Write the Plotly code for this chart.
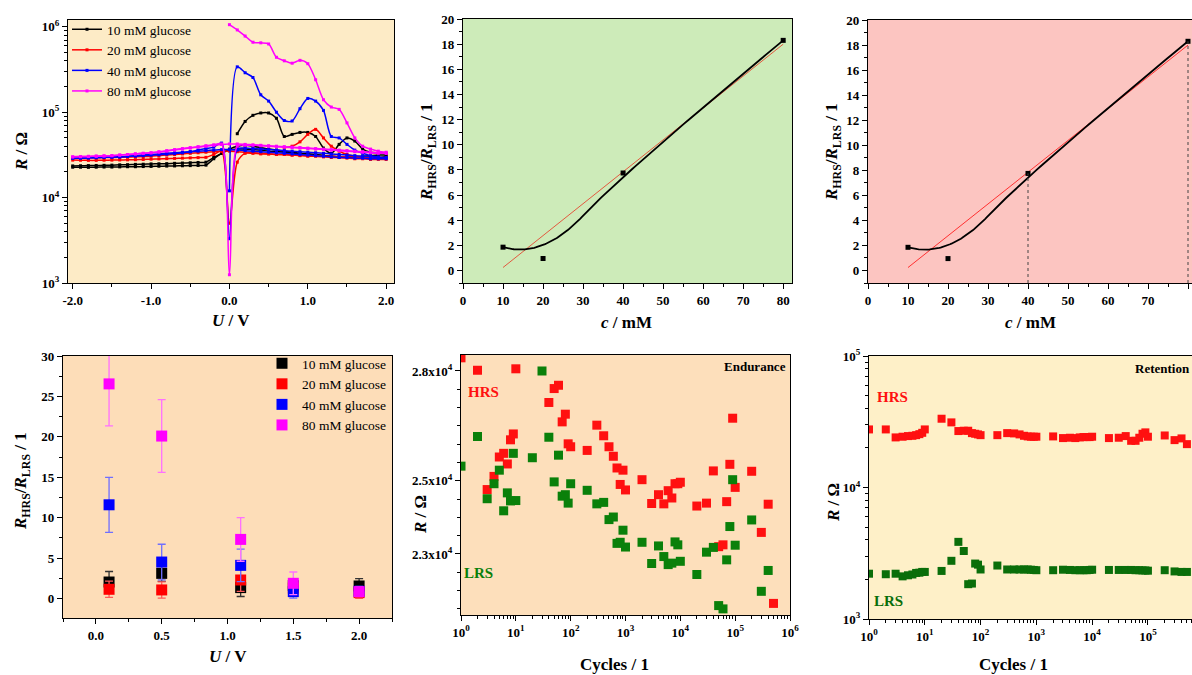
import numpy as np
import plotly.graph_objects as go

W, H = 1192, 675
SERIF = "Liberation Serif, Times New Roman, Times, serif"

# ---------------- Panel 1 : R vs U (sweeps) ----------------
U_fwd = [-2.0, -1.9, -1.8, -1.7, -1.6, -1.5, -1.4, -1.3, -1.2, -1.1, -1.0, -0.9, -0.8, -0.7,
         -0.6, -0.5, -0.4, -0.3, -0.2, -0.1, 0.0, 0.1, 0.2, 0.3, 0.4, 0.5, 0.6, 0.7, 0.8, 0.9,
         1.0, 1.1, 1.2, 1.3, 1.4, 1.5, 1.6, 1.7, 1.8, 1.9, 2.0]
U_ret = [2.0, 1.9, 1.8, 1.7, 1.6, 1.5, 1.4, 1.3, 1.2, 1.1, 1.0, 0.9, 0.8, 0.7, 0.6, 0.5, 0.4,
         0.3, 0.2, 0.1, 0.0, -0.1, -0.2, -0.3, -0.4, -0.5, -0.6, -0.7, -0.8, -0.9, -1.0, -1.1,
         -1.2, -1.3, -1.4, -1.5, -1.6, -1.7, -1.8, -1.9, -2.0]

R10_fwd = [22700, 22700, 22600, 22700, 22800, 22800, 22900, 23000, 23000, 23100, 23200, 23300,
           23400, 23500, 23600, 23700, 23800, 24000, 28500, 33000, 37000, 40000, 41000, 40000,
           38500, 37000, 36000, 35000, 34000, 33000, 32500, 32000, 31000, 30500, 30000, 29500,
           29500, 29500, 29500, 29500, 30000]
U10_hrs = [0.1, 0.2, 0.3, 0.4, 0.5, 0.6, 0.7, 0.8, 0.9, 1.0, 1.1, 1.2, 1.3, 1.4, 1.5, 1.6,
           1.7, 1.8, 1.9, 2.0]
R10_hrs = [56000, 78000, 92000, 98000, 98000, 85000, 52000, 55000, 58000, 58000, 52000, 38000,
           33000, 42000, 50000, 46000, 37000, 34000, 33500, 33000]
R10_ret = [31500, 31500, 31000, 30500, 30000, 30000, 30000, 30500, 31000, 31500, 32000, 32500,
           33000, 34000, 34500, 35000, 36000, 36500, 37000, 37000, 36000, 33000, 29500, 26000,
           25800, 25600, 25400, 25200, 25000, 24900, 24800, 24600, 24500, 24300, 24200, 24000,
           23900, 23800, 23700, 23600, 23500]

R20_fwd = [27500, 27400, 27300, 27300, 27400, 27500, 27600, 27700, 27800, 28000, 28200, 28400,
           28600, 28800, 29000, 29200, 29400, 29600, 32000, 35000, 5000, 26000, 33000, 33000,
           32500, 32500, 32000, 32000, 31500, 31000, 30500, 30500, 30000, 29500, 29500, 29000,
           28500, 28500, 28000, 28000, 28000]
U20_hrs = [0.7, 0.8, 0.9, 1.0, 1.1, 1.2, 1.3, 1.4, 1.5, 1.6, 1.7, 1.8, 1.9, 2.0]
R20_hrs = [38500, 40000, 45000, 55000, 63000, 50000, 40000, 35000, 32000, 30500, 30000, 29500,
           29000, 29000]
R20_ret = [29000, 29000, 29000, 29500, 29500, 30000, 30000, 30500, 30500, 31000, 31000, 31500,
           31500, 32000, 32000, 32500, 33000, 33500, 34000, 34500, 35000, 35000, 34500, 34000,
           33500, 33000, 32500, 32000, 31500, 31000, 30500, 30200, 30000, 29800, 29600, 29500,
           29400, 29300, 29200, 29100, 29000]

R40_fwd = [29000, 29000, 29200, 29400, 29600, 29800, 30000, 30300, 30600, 31000, 31400, 31800,
           32300, 32800, 33500, 34500, 36000, 37500, 39000, 43500, 3300, 37000, 38000, 37500,
           37000, 36500, 36000, 35500, 35000, 34500, 34000, 33500, 33000, 32500, 32000, 31500,
           31000, 30500, 30000, 29500, 29000]
U40_hrs = [0.0, 0.1, 0.2, 0.3, 0.4, 0.5, 0.6, 0.7, 0.8, 0.9, 1.0, 1.1, 1.2, 1.3, 1.4, 1.5,
           1.6, 1.7, 1.8, 1.9, 2.0]
R40_hrs = [12000, 340000, 290000, 255000, 160000, 135000, 100000, 80000, 79000, 110000, 145000,
           135000, 105000, 52000, 50000, 42000, 36000, 33000, 31000, 30000, 29500]
R40_ret = [28500, 28500, 28500, 29000, 29000, 29500, 29500, 30000, 30500, 31000, 31500, 32000,
           32500, 33000, 33500, 34000, 34500, 35000, 35500, 36000, 36500, 36500, 36000, 35500,
           35000, 34500, 34000, 33500, 33000, 32500, 32000, 31500, 31000, 30500, 30000, 29800,
           29600, 29400, 29200, 29000, 29000]

R80_fwd = [30000, 30200, 30400, 30600, 30800, 31000, 31500, 32000, 32500, 33000, 33500, 34500,
           35500, 36500, 37500, 38500, 39500, 40500, 41500, 42500, 1250, 40000, 41000, 41000,
           40500, 40000, 39500, 39000, 38500, 38000, 37500, 37000, 36500, 36000, 35500, 35000,
           34500, 34000, 33500, 33000, 33000]
U80_hrs = [0.0, 0.1, 0.2, 0.3, 0.4, 0.5, 0.6, 0.7, 0.8, 0.9, 1.0, 1.1, 1.2, 1.3, 1.4, 1.5,
           1.6, 1.7, 1.8, 1.9, 2.0]
R80_hrs = [1060000, 920000, 780000, 660000, 650000, 630000, 440000, 400000, 375000, 405000,
           370000, 240000, 140000, 115000, 108000, 75000, 50000, 40000, 37000, 35000, 34000]
R80_ret = [33000, 33500, 34000, 34500, 35000, 35500, 36000, 36500, 37000, 37500, 38000, 38500,
           39000, 39500, 40000, 40500, 41000, 41500, 42000, 42500, 42500, 42000, 41000, 40000,
           39000, 38000, 37000, 36000, 35000, 34000, 33500, 33000, 32500, 32000, 31500, 31000,
           30800, 30600, 30400, 30200, 30000]

series_names = ["10 mM glucose", "20 mM glucose", "40 mM glucose", "80 mM glucose"]
series_colors = ["#000000", "#FF0000", "#0000FF", "#FF00FF"]
U_ticks = [-2.0, -1.0, 0.0, 1.0, 2.0]

# ---------------- Panels 2/3 : ratio vs concentration ----------------
conc = [10, 20, 40, 80]
ratio_c = [1.85, 0.95, 7.75, 18.3]
marked_conc = [40, 80]

# ---------------- Panel 4 : ratio vs voltage ----------------
U_ratio = [0.1, 0.5, 1.1, 1.5, 2.0]
ratio10 = [2.05, 3.12, 1.36, 1.6, 1.56]
err10 = [1.3, 1.0, 1.1, 0.8, 0.9]
ratio20 = [1.15, 1.07, 2.3, 1.3, 0.74]
err20 = [1.0, 1.0, 1.4, 0.9, 0.7]
ratio40 = [11.6, 4.52, 4.11, 0.86, 0.9]
err40 = [3.4, 2.2, 2.0, 0.8, 0.6]
ratio80 = [26.55, 20.1, 7.32, 1.89, 0.86]
err80 = [5.2, 4.5, 2.7, 1.4, 0.6]
err_colors = ["#333333", "#FF5A5A", "#6F6FFF", "#FF70FF"]

# ---------------- Panel 5 : endurance ----------------
cyc_hrs_e = [1, 2, 3, 4, 5, 6, 7, 8, 9, 10, 40, 50, 60, 70, 80, 90, 100,
             200, 300, 400, 500, 600, 700, 800, 900, 1000,
             2000, 3000, 4000, 5000, 6000, 7000, 8000, 9000, 10000,
             20000, 30000, 40000, 50000, 60000, 70000, 80000, 90000, 100000,
             200000, 300000, 400000, 500000]
R_hrs_e = [28360, 28020, 24760, 25120, 25650, 25750, 25460, 26120, 26280, 28060,
           27140, 27520, 27610, 26610, 26820, 26010, 25930,
           25830, 26520, 26230, 25930, 25670, 25350, 24900, 25290, 24750,
           25030, 24380, 24620, 24370, 24730, 24530, 24920, 24920, 24960,
           24310, 24390, 25270, 23200, 23250, 24430, 25450, 26710, 24820,
           25260, 23590, 24360, 21650]
cyc_lrs_e = [1, 2, 3, 4, 5, 6, 7, 8, 9, 10, 20, 30, 40, 50, 60, 70, 80, 90, 100,
             200, 300, 400, 500, 600, 700, 800, 900, 1000,
             2000, 3000, 4000, 5000, 6000, 7000, 8000, 9000, 10000,
             20000, 30000, 40000, 50000, 60000, 70000, 80000, 90000, 100000,
             200000, 300000, 400000]
R_lrs_e = [25400, 26210, 24510, 24920, 25290, 24180, 24670, 24450, 25750, 24460,
           25630, 28000, 26190, 24970, 25700, 24580, 24620, 24390, 24920,
           24740, 24370, 24410, 23940, 24010, 23290, 23320, 23650, 23190,
           23320, 22740, 23220, 22930, 22710, 22750, 23330, 23250, 22800,
           22440, 23050, 23180, 21590, 21500, 22840, 23750, 25030, 23240,
           23930, 21980, 22550]
end_ticks = [23000, 25000, 28000]

# ---------------- Panel 6 : retention ----------------
cyc_r = [1, 2, 3, 4, 5, 6, 7, 8, 9, 10, 20, 30, 40, 50, 60, 70, 80, 90, 100,
         200, 300, 400, 500, 600, 700, 800, 900, 1000,
         2000, 3000, 4000, 5000, 6000, 7000, 8000, 9000, 10000,
         20000, 30000, 40000, 50000, 60000, 70000, 80000, 90000, 100000,
         200000, 300000, 400000, 500000]
R_hrs_r = [27650, 27650, 24040, 24330, 24600, 24730, 25010, 25450, 26050, 27650,
           33340, 31270, 26870, 27020, 27020, 25920, 25630, 25340, 25010,
           25010, 25920, 25780, 25340, 24730, 24460, 24330, 24330, 24330,
           24460, 23760, 23900, 23760, 24040, 24180, 24180, 24180, 24330,
           23760, 23900, 24600, 22650, 22650, 23900, 25630, 26250, 24330,
           24870, 22930, 23620, 21370]
R_lrs_r = [2210, 2190, 2210, 2110, 2150, 2180, 2240, 2250, 2280, 2280,
           2320, 2770, 3860, 3290, 1840, 1860, 2640, 2590, 2380,
           2550, 2380, 2380, 2380, 2380, 2380, 2370, 2360, 2350,
           2350, 2370, 2360, 2350, 2350, 2350, 2350, 2360, 2370,
           2360, 2360, 2360, 2360, 2350, 2350, 2340, 2340, 2330,
           2350, 2300, 2280, 2280]


# ---------------- helpers ----------------
def px_x(p):
    return p / W


def px_y(p):
    return 1 - p / H


def qbspline(xs, ys, n=60):
    """Clamped uniform quadratic B-spline using the points as control points."""
    P = np.column_stack([xs, ys]).astype(float)
    k = len(P)
    out = []
    for i in range(1, k - 1):
        a = P[0] if i == 1 else (P[i - 1] + P[i]) / 2
        b = P[i]
        c = P[-1] if i == k - 2 else (P[i] + P[i + 1]) / 2
        t = np.linspace(0, 1, n)[:, None]
        out.append((1 - t) ** 2 * a + 2 * t * (1 - t) * b + t ** 2 * c)
    pts = np.vstack(out)
    return pts[:, 0], pts[:, 1]


def join(*segs):
    out = []
    for i, s in enumerate(segs):
        if i:
            out.append(None)
        out.extend(s)
    return out


def sup_label(v):
    e = int(round(np.log10(v)))
    return f"10<sup>{e}</sup>"


TICKFONT = dict(family=SERIF, size=13, color="black", weight="bold")
MINOR = dict(ticks="outside", ticklen=3, tickwidth=1, tickcolor="black", showgrid=False)


def axis(dom, **kw):
    d = dict(domain=dom, showline=True, linecolor="black", linewidth=1.3, mirror=True,
             ticks="outside", ticklen=5, tickwidth=1.2, tickcolor="black", showgrid=False,
             zeroline=False, tickfont=TICKFONT, automargin=False)
    d.update(kw)
    return d


fig = go.Figure()

# ---- Panel 1 traces ----
fwd = [R10_fwd, R20_fwd, R40_fwd, R80_fwd]
hrsU = [U10_hrs, U20_hrs, U40_hrs, U80_hrs]
hrsR = [R10_hrs, R20_hrs, R40_hrs, R80_hrs]
ret = [R10_ret, R20_ret, R40_ret, R80_ret]
for i in range(4):
    fig.add_trace(go.Scatter(
        x=join(U_fwd, hrsU[i], U_ret), y=join(fwd[i], hrsR[i], ret[i]),
        mode="lines+markers", name=series_names[i], connectgaps=False,
        line=dict(color=series_colors[i], width=1.5, shape="spline", smoothing=0.8),
        marker=dict(symbol="square", size=3, color=series_colors[i]),
        xaxis="x", yaxis="y", legend="legend"))

# ---- Panels 2 & 3 ----
bx, by = qbspline(conc, ratio_c)
slope, icpt = np.polyfit(conc, ratio_c, 1)
fit_x = [min(conc), max(conc)]
fit_y = [slope * v + icpt for v in fit_x]
for xa, ya, fitcol in (("x2", "y2", "#E2593F"), ("x3", "y3", "#FF3030")):
    fig.add_trace(go.Scatter(x=fit_x, y=fit_y, mode="lines", showlegend=False,
                             line=dict(color=fitcol, width=1), xaxis=xa, yaxis=ya))
    fig.add_trace(go.Scatter(x=bx, y=by, mode="lines", showlegend=False,
                             line=dict(color="black", width=1.8), xaxis=xa, yaxis=ya))
    fig.add_trace(go.Scatter(x=conc, y=ratio_c, mode="markers", showlegend=False,
                             marker=dict(symbol="square", size=5, color="black"),
                             xaxis=xa, yaxis=ya))
for c in marked_conc:
    yv = ratio_c[conc.index(c)]
    fig.add_trace(go.Scatter(x=[c, c], y=[-1, yv], mode="lines", showlegend=False,
                             line=dict(color="#444444", width=1, dash="dot"),
                             xaxis="x3", yaxis="y3"))

# ---- Panel 4 ----
ratios = [ratio10, ratio20, ratio40, ratio80]
errs = [err10, err20, err40, err80]
for i in range(4):
    fig.add_trace(go.Scatter(
        x=U_ratio, y=ratios[i], mode="markers", name=series_names[i],
        marker=dict(symbol="square", size=11, color=series_colors[i]),
        error_y=dict(type="data", array=errs[i], color=err_colors[i], thickness=1.3, width=4),
        xaxis="x4", yaxis="y4", legend="legend2"))

# ---- Panel 5 ----
fig.add_trace(go.Scatter(x=cyc_hrs_e, y=R_hrs_e, mode="markers", showlegend=False,
                         marker=dict(symbol="square", size=9, color="#FF1010"),
                         xaxis="x5", yaxis="y5"))
fig.add_trace(go.Scatter(x=cyc_lrs_e, y=R_lrs_e, mode="markers", showlegend=False,
                         marker=dict(symbol="square", size=9, color="#0A800A"),
                         xaxis="x5", yaxis="y5"))

# ---- Panel 6 ----
fig.add_trace(go.Scatter(x=cyc_r, y=R_hrs_r, mode="markers", showlegend=False,
                         marker=dict(symbol="square", size=8, color="#FF1010"),
                         xaxis="x6", yaxis="y6"))
fig.add_trace(go.Scatter(x=cyc_r, y=R_lrs_r, mode="markers", showlegend=False,
                         marker=dict(symbol="square", size=8, color="#0A6E0A"),
                         xaxis="x6", yaxis="y6"))

# ---------------- layout ----------------
dom = {
    1: ([px_x(68), px_x(394)], [px_y(283), px_y(20)]),
    2: ([px_x(463), px_x(792)], [px_y(283), px_y(19)]),
    3: ([px_x(868), 1.0], [px_y(283), px_y(20)]),
    4: ([px_x(63), px_x(392)], [px_y(618), px_y(356)]),
    5: ([px_x(461), px_x(790)], [px_y(615), px_y(355)]),
    6: ([px_x(869), 1.0], [px_y(619), px_y(356)]),
}
bg = {1: "#FDEBC6", 2: "#CDEBB9", 3: "#FCC5C1", 4: "#FDDDB8", 5: "#FDDFBB", 6: "#FEF0C8"}

dec1 = [1e3, 1e4, 1e5, 1e6]
decx = [1, 10, 100, 1e3, 1e4, 1e5, 1e6]
dec6 = [1e3, 1e4, 1e5]

layout = dict(
    width=W, height=H, margin=dict(l=0, r=0, t=0, b=0, autoexpand=False),
    paper_bgcolor="white", plot_bgcolor="rgba(0,0,0,0)",
    font=dict(family=SERIF, color="black"),
    xaxis=axis(dom[1][0], anchor="y", range=[-2.06, 2.1], tickmode="array",
               tickvals=U_ticks, ticktext=[f"{v:.1f}" for v in U_ticks],
               minor=dict(MINOR, dtick=0.5)),
    yaxis=axis(dom[1][1], anchor="x", type="log", range=[3, 6.08], tickmode="array",
               tickvals=dec1, ticktext=[sup_label(v) for v in dec1],
               minor=dict(MINOR, dtick="D1")),
    xaxis2=axis(dom[2][0], anchor="y2", range=[0, 82.2], dtick=10, minor=dict(MINOR, dtick=5)),
    yaxis2=axis(dom[2][1], anchor="x2", range=[-1, 20], dtick=2, minor=dict(MINOR, dtick=1)),
    xaxis3=axis(dom[3][0], anchor="y3", range=[0, 81], dtick=10, minor=dict(MINOR, dtick=5)),
    yaxis3=axis(dom[3][1], anchor="x3", range=[-1, 20], dtick=2, minor=dict(MINOR, dtick=1)),
    xaxis4=axis(dom[4][0], anchor="y4", range=[-0.25, 2.25], dtick=0.5, tickformat=".1f",
                minor=dict(MINOR, dtick=0.25)),
    yaxis4=axis(dom[4][1], anchor="x4", range=[-2.4, 30], dtick=5, minor=dict(MINOR, dtick=2.5)),
    xaxis5=axis(dom[5][0], anchor="y5", type="log", range=[0, 6], tickmode="array",
                tickvals=decx, ticktext=[sup_label(v) for v in decx],
                minor=dict(MINOR, dtick="D1")),
    yaxis5=axis(dom[5][1], anchor="x5", range=[21333, 28437], tickmode="array",
                tickvals=end_ticks,
                ticktext=[f"{v / 1e4:.1f}x10<sup>4</sup>" for v in end_ticks],
                minor=dict(MINOR, dtick=500)),
    xaxis6=axis(dom[6][0], anchor="y6", type="log", range=[0, 5.79], tickmode="array",
                tickvals=decx[:6], ticktext=[sup_label(v) for v in decx[:6]],
                minor=dict(MINOR, dtick="D1")),
    yaxis6=axis(dom[6][1], anchor="x6", type="log", range=[3, 5], tickmode="array",
                tickvals=dec6, ticktext=[sup_label(v) for v in dec6],
                minor=dict(MINOR, dtick="D1")),
    legend=dict(x=px_x(67), y=px_y(14), xanchor="left", yanchor="top",
                bgcolor="rgba(0,0,0,0)", font=dict(family=SERIF, size=13.5, color="black"),
                itemwidth=30, tracegroupgap=0),
    legend2=dict(x=px_x(392), y=px_y(348), xanchor="right", yanchor="top",
                 bgcolor="rgba(0,0,0,0)", font=dict(family=SERIF, size=13.5, color="black"),
                 itemwidth=30, tracegroupgap=0),
)
fig.update_layout(**layout)

shapes = []
for k in range(1, 7):
    sfx = "" if k == 1 else str(k)
    shapes.append(dict(type="rect", xref=f"x{sfx} domain", yref=f"y{sfx} domain",
                       x0=0, x1=1, y0=0, y1=1, fillcolor=bg[k], line=dict(width=0),
                       layer="below"))
fig.update_layout(shapes=shapes)

TF = dict(family=SERIF, size=17, color="black")
RATIO_T = "<b><i>R</i><sub>HRS</sub>/<i>R</i><sub>LRS</sub> / 1</b>"
ann = [
    # axis titles
    dict(x=px_x(231), y=px_y(321), text="<b><i>U</i> / V</b>", textangle=0),
    dict(x=px_x(22), y=px_y(152), text="<b><i>R</i> / Ω</b>", textangle=-90),
    dict(x=px_x(627), y=px_y(322), text="<b><i>c</i> / mM</b>", textangle=0),
    dict(x=px_x(428), y=px_y(152), text=RATIO_T, textangle=-90),
    dict(x=px_x(1030), y=px_y(322), text="<b><i>c</i> / mM</b>", textangle=0),
    dict(x=px_x(833), y=px_y(152), text=RATIO_T, textangle=-90),
    dict(x=px_x(228), y=px_y(656), text="<b><i>U</i> / V</b>", textangle=0),
    dict(x=px_x(22), y=px_y(481), text=RATIO_T, textangle=-90),
    dict(x=px_x(614), y=px_y(664), text="<b>Cycles / 1</b>", textangle=0),
    dict(x=px_x(420), y=px_y(515), text="<b><i>R</i> / Ω</b>", textangle=-90),
    dict(x=px_x(1013), y=px_y(664), text="<b>Cycles / 1</b>", textangle=0),
    dict(x=px_x(833), y=px_y(503), text="<b><i>R</i> / Ω</b>", textangle=-90),
]
ann = [dict(a, xref="paper", yref="paper", showarrow=False, font=TF,
            xanchor="center", yanchor="middle") for a in ann]
lab = [
    dict(x=px_x(483), y=px_y(392), text="<b>HRS</b>", font=dict(family=SERIF, size=15, color="#FF1010"), xanchor="center"),
    dict(x=px_x(478), y=px_y(573), text="<b>LRS</b>", font=dict(family=SERIF, size=15, color="#0A800A"), xanchor="center"),
    dict(x=px_x(788), y=px_y(366), text="<b>Endurance</b>", font=dict(family=SERIF, size=13, color="black"), xanchor="right"),
    dict(x=px_x(892), y=px_y(397), text="<b>HRS</b>", font=dict(family=SERIF, size=15, color="#FF1010"), xanchor="center"),
    dict(x=px_x(888), y=px_y(601), text="<b>LRS</b>", font=dict(family=SERIF, size=15, color="#0A6E0A"), xanchor="center"),
    dict(x=px_x(1133), y=px_y(368), text="<b>Retention</b>", font=dict(family=SERIF, size=13, color="black"), xanchor="left"),
]
lab = [dict(a, xref="paper", yref="paper", showarrow=False, yanchor="middle") for a in lab]
fig.update_layout(annotations=ann + lab)

fig.write_html("out.html", config={"displayModeBar": False},
               post_script="document.body.style.margin='0';document.body.style.overflow='hidden';")
